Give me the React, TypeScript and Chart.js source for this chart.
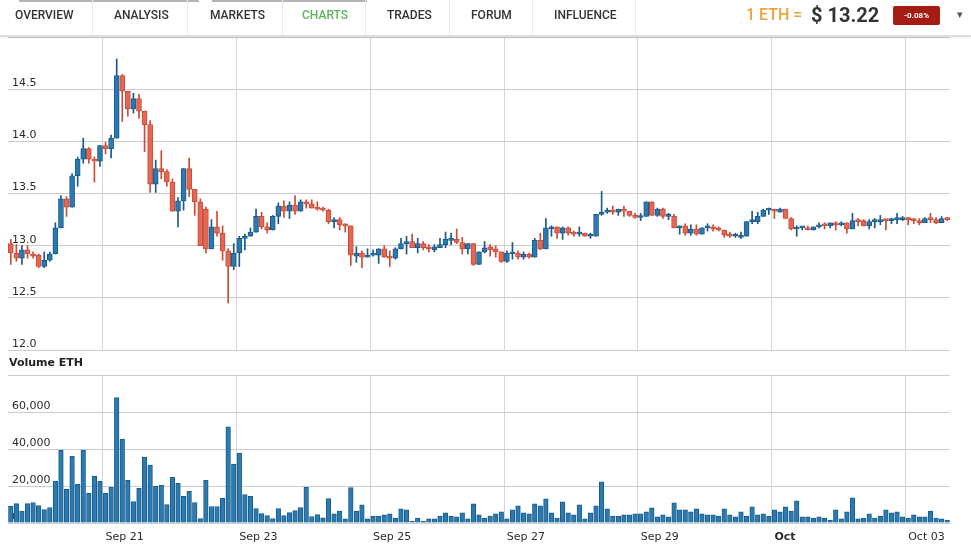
import React, { useEffect, useRef } from 'react';
import { Chart, registerables } from 'chart.js';

Chart.register(...registerables);

// 2-hour candles, ETH price (USD)
const opens = [
  13.02, 12.93, 12.88, 12.96, 12.92, 12.91, 12.80, 12.86, 12.92, 13.17,
  13.45, 13.37, 13.67, 13.83, 13.93, 13.83, 13.81, 13.96, 13.93, 14.03,
  14.63, 14.48, 14.31, 14.41, 14.29, 14.16, 13.59, 13.74, 13.71, 13.61,
  13.33, 13.43, 13.74, 13.54, 13.42, 13.35, 12.97, 13.18, 13.12, 12.95,
  12.80, 12.93, 13.07, 13.09, 13.13, 13.28, 13.18, 13.15, 13.28, 13.38,
  13.33, 13.39, 13.33, 13.42, 13.40, 13.36, 13.36, 13.34, 13.23, 13.25,
  13.20, 13.19, 12.90, 12.93, 12.89, 12.91, 12.91, 12.97, 12.89, 12.88,
  12.97, 13.02, 13.04, 12.98, 13.02, 12.99, 12.96, 12.98, 13.01, 13.05,
  13.06, 13.03, 12.97, 13.02, 12.82, 12.94, 12.99, 12.97, 12.94, 12.85,
  12.92, 12.93, 12.89, 12.92, 12.89, 13.05, 12.97, 13.16, 13.18, 13.12,
  13.17, 13.12, 13.11, 13.12, 13.09, 13.09, 13.30, 13.32, 13.34, 13.32,
  13.35, 13.33, 13.29, 13.27, 13.28, 13.42, 13.29, 13.35, 13.28, 13.28,
  13.17, 13.19, 13.12, 13.16, 13.11, 13.17, 13.18, 13.17, 13.15, 13.11,
  13.09, 13.08, 13.09, 13.23, 13.23, 13.28, 13.34, 13.34, 13.32, 13.35,
  13.26, 13.16, 13.17, 13.17, 13.15, 13.18, 13.20, 13.19, 13.22, 13.20,
  13.22, 13.16, 13.24, 13.24, 13.19, 13.23, 13.23, 13.25, 13.24, 13.25,
  13.25, 13.27, 13.25, 13.24, 13.22, 13.26, 13.25, 13.22, 13.26,
];
const highs = [
  13.06, 13.01, 13.00, 13.00, 12.94, 12.92, 12.94, 12.94, 13.22, 13.48,
  13.47, 13.69, 13.85, 14.03, 13.94, 13.85, 13.96, 13.99, 14.06, 14.79,
  14.64, 14.48, 14.46, 14.45, 14.29, 14.20, 13.82, 13.91, 13.73, 13.64,
  13.46, 13.74, 13.84, 13.54, 13.45, 13.37, 13.25, 13.33, 13.19, 12.97,
  13.02, 13.09, 13.11, 13.17, 13.35, 13.32, 13.22, 13.29, 13.41, 13.43,
  13.42, 13.48, 13.44, 13.44, 13.44, 13.42, 13.37, 13.35, 13.27, 13.27,
  13.21, 13.19, 12.99, 12.95, 12.97, 12.96, 12.97, 13.00, 12.95, 12.98,
  13.07, 13.09, 13.11, 13.07, 13.04, 13.01, 13.01, 13.07, 13.13, 13.12,
  13.16, 13.08, 13.02, 13.02, 12.94, 13.04, 13.01, 13.00, 12.94, 12.95,
  13.03, 12.95, 12.94, 12.93, 13.07, 13.12, 13.26, 13.19, 13.18, 13.18,
  13.18, 13.14, 13.18, 13.12, 13.12, 13.30, 13.52, 13.36, 13.38, 13.35,
  13.38, 13.33, 13.31, 13.31, 13.42, 13.42, 13.36, 13.36, 13.31, 13.30,
  13.19, 13.21, 13.20, 13.20, 13.17, 13.21, 13.20, 13.18, 13.15, 13.13,
  13.12, 13.13, 13.23, 13.33, 13.32, 13.35, 13.36, 13.34, 13.36, 13.35,
  13.27, 13.19, 13.18, 13.19, 13.18, 13.22, 13.22, 13.22, 13.23, 13.23,
  13.22, 13.31, 13.26, 13.25, 13.25, 13.26, 13.29, 13.25, 13.26, 13.31,
  13.28, 13.27, 13.26, 13.26, 13.27, 13.31, 13.27, 13.28, 13.27,
];
const lows = [
  12.82, 12.85, 12.82, 12.88, 12.88, 12.79, 12.79, 12.85, 12.92, 13.17,
  13.28, 13.37, 13.57, 13.79, 13.79, 13.61, 13.76, 13.88, 13.84, 14.03,
  14.19, 14.24, 14.27, 14.22, 13.90, 13.51, 13.51, 13.64, 13.57, 13.33,
  13.18, 13.34, 13.47, 13.29, 13.00, 12.93, 12.97, 13.09, 12.86, 12.45,
  12.77, 12.80, 12.96, 13.09, 13.13, 13.16, 13.12, 13.15, 13.21, 13.27,
  13.26, 13.30, 13.33, 13.36, 13.36, 13.34, 13.33, 13.21, 13.17, 13.15,
  13.13, 12.81, 12.84, 12.79, 12.89, 12.90, 12.83, 12.89, 12.80, 12.87,
  12.97, 12.92, 12.98, 12.93, 12.96, 12.94, 12.94, 12.98, 12.98, 13.01,
  13.02, 12.92, 12.92, 12.81, 12.82, 12.93, 12.90, 12.89, 12.84, 12.84,
  12.87, 12.87, 12.87, 12.88, 12.89, 12.96, 12.97, 13.09, 13.07, 13.06,
  13.10, 13.09, 13.09, 13.09, 13.07, 13.09, 13.29, 13.31, 13.30, 13.29,
  13.28, 13.28, 13.26, 13.24, 13.28, 13.29, 13.28, 13.26, 13.25, 13.17,
  13.11, 13.10, 13.10, 13.10, 13.11, 13.14, 13.14, 13.14, 13.08, 13.08,
  13.08, 13.07, 13.09, 13.21, 13.21, 13.28, 13.30, 13.26, 13.32, 13.26,
  13.15, 13.09, 13.15, 13.15, 13.15, 13.17, 13.16, 13.17, 13.15, 13.19,
  13.12, 13.16, 13.19, 13.19, 13.16, 13.17, 13.20, 13.15, 13.21, 13.21,
  13.24, 13.20, 13.21, 13.20, 13.22, 13.22, 13.21, 13.22, 13.24,
];
const closes = [
  12.93, 12.88, 12.96, 12.92, 12.90, 12.80, 12.86, 12.92, 13.17, 13.45,
  13.37, 13.67, 13.83, 13.93, 13.83, 13.81, 13.96, 13.93, 14.03, 14.63,
  14.48, 14.31, 14.41, 14.29, 14.16, 13.59, 13.74, 13.71, 13.61, 13.33,
  13.43, 13.74, 13.54, 13.42, 13.00, 12.97, 13.18, 13.12, 12.95, 12.80,
  12.93, 13.07, 13.09, 13.13, 13.28, 13.18, 13.15, 13.28, 13.38, 13.33,
  13.39, 13.33, 13.42, 13.40, 13.36, 13.35, 13.34, 13.23, 13.25, 13.20,
  13.19, 12.91, 12.93, 12.89, 12.91, 12.92, 12.97, 12.89, 12.88, 12.97,
  13.02, 13.04, 12.98, 13.02, 12.98, 12.97, 12.99, 13.01, 13.06, 13.06,
  13.03, 12.97, 13.02, 12.82, 12.94, 12.98, 12.96, 12.94, 12.85, 12.93,
  12.93, 12.89, 12.92, 12.89, 13.05, 12.97, 13.17, 13.18, 13.12, 13.17,
  13.12, 13.11, 13.12, 13.09, 13.10, 13.30, 13.32, 13.34, 13.32, 13.35,
  13.33, 13.29, 13.27, 13.28, 13.42, 13.29, 13.35, 13.28, 13.29, 13.17,
  13.19, 13.12, 13.16, 13.11, 13.17, 13.18, 13.16, 13.15, 13.10, 13.09,
  13.095, 13.085, 13.23, 13.235, 13.28, 13.34, 13.345, 13.33, 13.35, 13.26,
  13.16, 13.17, 13.175, 13.15, 13.18, 13.20, 13.19, 13.22, 13.20, 13.21,
  13.16, 13.24, 13.23, 13.19, 13.23, 13.24, 13.25, 13.24, 13.25, 13.26,
  13.27, 13.25, 13.24, 13.22, 13.26, 13.25, 13.22, 13.26, 13.25,
];
// Volume ETH per candle
const volumes = [
  9100, 10500, 6400, 10500, 11100, 9400, 7300, 8400, 22500, 39400,
  18200, 36200, 20900, 39400, 16000, 25300, 22500, 16000, 19300, 67800,
  45400, 23100, 11600, 18700, 35600, 31300, 19800, 20400, 10000, 24700,
  21400, 14400, 17100, 11100, 2400, 23100, 8900, 8900, 13300, 52000,
  31800, 37800, 15400, 14400, 7800, 5100, 4000, 2400, 7800, 4000,
  5600, 6700, 8400, 19300, 3500, 4500, 2800, 13200, 4900, 6500,
  2200, 19100, 6500, 9800, 2200, 3800, 3800, 4400, 4900, 2700,
  7600, 7100, 1100, 2700, 1100, 2200, 2200, 3800, 5500, 3800,
  3300, 5500, 2200, 10400, 4400, 2700, 3800, 4900, 6000, 2200,
  7100, 9300, 5500, 4900, 10400, 9300, 13100, 5500, 2700, 11400,
  5500, 4400, 9800, 2200, 5500, 9300, 22300, 7600, 3800, 3800,
  4400, 4400, 4900, 4900, 6000, 8200, 3300, 4400, 3300, 10900,
  7100, 7100, 6000, 7600, 4900, 4400, 4400, 3800, 7600, 4400,
  3300, 6000, 3800, 8700, 4400, 4900, 3800, 7100, 6000, 8700,
  6500, 12000, 3300, 3300, 2700, 3300, 2700, 1600, 7100, 2200,
  6000, 13600, 2200, 2700, 4900, 2700, 3800, 7100, 5500, 6000,
  3300, 2700, 4400, 3300, 3300, 6500, 2700, 2200, 1600,
];
// Day boundary ticks (category index where each day starts) and their labels
const xTickIndex = [17, 41, 65, 89, 113, 137, 161];
const xTickLabels = ['Sep 21', 'Sep 23', 'Sep 25', 'Sep 27', 'Sep 29', 'Oct', 'Oct 03'];
const priceTicks = { min: 12, max: 15, step: 0.5 };
const volumeTicks = { min: 0, max: 80000, step: 20000 };

const menuItems = ['OVERVIEW', 'ANALYSIS', 'MARKETS', 'CHARTS', 'TRADES', 'FORUM', 'INFLUENCE'];
const menuX = [15, 114, 210, 302, 387, 471, 554];
const menuSep = [92, 187, 282, 365, 449, 532, 635];

const BLUE_FILL = '#2a79b0';
const BLUE_LINE = '#1a5a8a';
const RED_FILL = '#e26853';
const RED_LINE = '#cc4a36';
const GRID_H = '#cccccc';
const GRID_V = '#d6d6d6';
const TEXT = '#2b2b2b';
const FONT = 'DejaVu Sans';

const noPad = (s: any) => {
  s.width = 8;
  s.paddingTop = 0;
  s.paddingBottom = 0;
};

export default function App() {
  const priceRef = useRef<HTMLCanvasElement>(null);
  const volRef = useRef<HTMLCanvasElement>(null);

  useEffect(() => {
    const labels = opens.map((_, i) => String(i));
    const up = closes.map((c, i) => c >= opens[i]);
    const gridX = (ctx: any) =>
      ctx.index >= xTickIndex[0] && (ctx.index - xTickIndex[0]) % 24 === 0 ? GRID_V : 'rgba(0,0,0,0)';

    const price = new Chart(priceRef.current as HTMLCanvasElement, {
      type: 'bar',
      data: {
        labels,
        datasets: [
          {
            label: 'body',
            data: opens.map((o, i) => [o, closes[i]]) as any,
            backgroundColor: up.map((u) => (u ? BLUE_FILL : RED_FILL)),
            borderColor: up.map((u) => (u ? BLUE_LINE : RED_LINE)),
            borderWidth: 1,
            borderSkipped: false,
            barThickness: 5,
            minBarLength: 2,
            grouped: false,
            order: 0,
          } as any,
          {
            label: 'wick',
            data: lows.map((l, i) => [l, highs[i]]) as any,
            backgroundColor: up.map((u) => (u ? BLUE_LINE : RED_LINE)),
            borderWidth: 0,
            barThickness: 1,
            grouped: false,
            order: 1,
          } as any,
        ],
      },
      options: {
        animation: false,
        responsive: false,
        maintainAspectRatio: false,
        layout: { padding: { left: 0, right: 21, top: 1, bottom: 10 } },
        plugins: { legend: { display: false }, tooltip: { enabled: false } },
        scales: {
          x: {
            grid: { offset: true, color: gridX, drawTicks: false },
            border: { display: false },
            ticks: { display: false },
          },
          y: {
            min: priceTicks.min,
            max: priceTicks.max,
            afterFit: noPad,
            grid: { color: GRID_H, drawTicks: false },
            border: { display: false },
            ticks: {
              stepSize: priceTicks.step,
              mirror: true,
              padding: 4,
              labelOffset: -6,
              color: TEXT,
              font: { family: FONT, size: 11 },
              callback: (v: any) => (Number(v) === priceTicks.max ? '' : Number(v).toFixed(1)),
            },
          },
        },
      } as any,
    });

    const vol = new Chart(volRef.current as HTMLCanvasElement, {
      type: 'bar',
      data: {
        labels,
        datasets: [
          {
            label: 'Volume ETH',
            data: volumes,
            backgroundColor: '#2b7bb1',
            borderColor: '#1b5c8a',
            borderWidth: 1,
            barThickness: 4.6,
          } as any,
        ],
      },
      options: {
        animation: false,
        responsive: false,
        maintainAspectRatio: false,
        layout: { padding: { left: 0, right: 21, top: 20, bottom: 0 } },
        plugins: { legend: { display: false }, tooltip: { enabled: false } },
        scales: {
          x: {
            afterFit: (s: any) => {
              s.height = 36;
            },
            grid: { offset: true, color: gridX, drawTicks: false },
            border: { display: false },
            ticks: {
              autoSkip: false,
              maxRotation: 0,
              minRotation: 0,
              align: 'start',
              padding: 8,
              color: TEXT,
              font: (ctx: any) => ({
                family: FONT,
                size: 11,
                weight: ctx.tick && ctx.tick.label === 'Oct' ? 'bold' : 'normal',
              }),
              callback: (_v: any, idx: number) => {
                const k = xTickIndex.indexOf(idx);
                return k >= 0 ? xTickLabels[k] : '';
              },
            },
          },
          y: {
            min: volumeTicks.min,
            max: volumeTicks.max,
            afterFit: noPad,
            grid: { color: GRID_H, drawTicks: false },
            border: { display: false },
            ticks: {
              stepSize: volumeTicks.step,
              mirror: true,
              padding: 4,
              labelOffset: -6,
              color: TEXT,
              font: { family: FONT, size: 11 },
              callback: (v: any) =>
                Number(v) === volumeTicks.max ? '' : Number(v).toLocaleString('en-US'),
            },
          },
        },
      } as any,
    });

    return () => {
      price.destroy();
      vol.destroy();
    };
  }, []);

  return (
    <div
      style={{
        position: 'relative',
        width: 971,
        height: 559,
        background: '#fff',
        overflow: 'hidden',
        fontFamily: 'Roboto, sans-serif',
      }}
    >
      <style>{'body{margin:0;}'}</style>
      <canvas
        ref={priceRef}
        width={971}
        height={324}
        style={{ position: 'absolute', left: 0, top: 36, width: 971, height: 324, display: 'block' }}
      />
      <div
        style={{
          position: 'absolute',
          left: 0,
          top: 0,
          width: 971,
          height: 35,
          background: '#fff',
          borderBottom: '2px solid #dedede',
          boxShadow: '0 1px 2px rgba(0,0,0,0.08)',
          zIndex: 2,
        }}
      >
        <div style={{ position: 'absolute', left: 19, top: 0, width: 180, height: 2, background: '#b5b5b5' }} />
        <div style={{ position: 'absolute', left: 212, top: 0, width: 155, height: 2, background: '#b5b5b5' }} />
        {menuSep.map((x, i) => (
          <div key={'s' + i} style={{ position: 'absolute', left: x, top: 0, width: 1, height: 35, background: '#ececec' }} />
        ))}
        {menuItems.map((m, i) => (
          <div
            key={m}
            style={{
              position: 'absolute',
              left: menuX[i],
              top: 8,
              fontSize: 12,
              fontWeight: 500,
              lineHeight: '14px',
              color: m === 'CHARTS' ? '#5cb55c' : '#333',
              whiteSpace: 'nowrap',
            }}
          >
            {m}
          </div>
        ))}
        <div
          style={{
            position: 'absolute',
            left: 746,
            top: 5,
            fontSize: 16,
            fontWeight: 500,
            lineHeight: '20px',
            color: '#f3a23b',
            whiteSpace: 'nowrap',
          }}
        >
          1 ETH =
        </div>
        <div
          style={{
            position: 'absolute',
            left: 811,
            top: 3,
            fontSize: 20,
            fontWeight: 700,
            lineHeight: '24px',
            color: '#333',
            whiteSpace: 'nowrap',
          }}
        >
          $ 13.22
        </div>
        <div
          style={{
            position: 'absolute',
            left: 893,
            top: 6,
            width: 47,
            height: 19,
            background: '#a51d12',
            borderRadius: 2,
            color: '#fff',
            fontSize: 8,
            fontWeight: 700,
            lineHeight: '19px',
            textAlign: 'center',
          }}
        >
          -0.08%
        </div>
        <div style={{ position: 'absolute', left: 957, top: 8, fontSize: 11, color: '#555', lineHeight: '14px' }}>▾</div>
      </div>
      <div
        style={{
          position: 'absolute',
          left: 9,
          top: 356,
          fontFamily: FONT,
          fontSize: 11,
          fontWeight: 700,
          lineHeight: '14px',
          color: '#222',
          whiteSpace: 'nowrap',
        }}
      >
        Volume ETH
      </div>
      <canvas
        ref={volRef}
        width={971}
        height={204}
        style={{ position: 'absolute', left: 0, top: 355, width: 971, height: 204, display: 'block' }}
      />
    </div>
  );
}
